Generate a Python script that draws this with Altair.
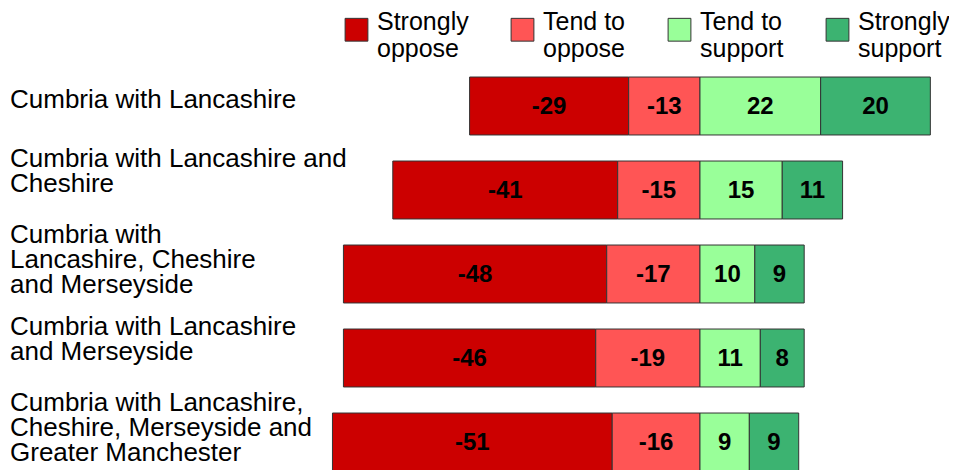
import altair as alt
import pandas as pd

regions = [
    "Cumbria with Lancashire",
    "Cumbria with Lancashire and Cheshire",
    "Cumbria with Lancashire, Cheshire and Merseyside",
    "Cumbria with Lancashire and Merseyside",
    "Cumbria with Lancashire, Cheshire, Merseyside and Greater Manchester",
]
region_labels = [
    "Cumbria with Lancashire",
    "Cumbria with Lancashire and\nCheshire",
    "Cumbria with\nLancashire, Cheshire\nand Merseyside",
    "Cumbria with Lancashire\nand Merseyside",
    "Cumbria with Lancashire,\nCheshire, Merseyside and\nGreater Manchester",
]
categories = ["Strongly oppose", "Tend to oppose", "Tend to support", "Strongly support"]
colors = ["#CC0000", "#FF5555", "#99FF99", "#3CB371"]

strongly_oppose = [-29, -41, -48, -46, -51]
tend_oppose = [-13, -15, -17, -19, -16]
tend_support = [22, 15, 10, 11, 9]
strongly_support = [20, 11, 9, 8, 9]

rows = []
for i, r in enumerate(regions):
    so, to, ts, ss = strongly_oppose[i], tend_oppose[i], tend_support[i], strongly_support[i]
    segs = [
        ("Strongly oppose", so, to + so, to),
        ("Tend to oppose", to, to, 0),
        ("Tend to support", ts, 0, ts),
        ("Strongly support", ss, ts, ts + ss),
    ]
    for cat, v, s, e in segs:
        rows.append({"region": r, "category": cat, "value": v, "start": s, "end": e,
                     "mid": (s + e) / 2, "label": str(v)})
df = pd.DataFrame(rows)
labels_df = pd.DataFrame({"region": regions, "text": region_labels})
labels_df["nlines"] = labels_df["text"].str.count("\n") + 1

yenc = alt.Y("region:N", sort=regions, axis=None,
             scale=alt.Scale(paddingInner=0.31, paddingOuter=0.155))
xscale = alt.Scale(domain=[-70, 45.4], nice=False, zero=False)

bars = alt.Chart(df).mark_bar(stroke="#333333", strokeWidth=1).encode(
    x=alt.X("start:Q", scale=xscale, axis=None),
    x2="end:Q",
    y=yenc,
    color=alt.Color(
        "category:N",
        scale=alt.Scale(domain=categories, range=colors),
        legend=alt.Legend(
            title=None,
            orient="none",
            legendX=28,
            legendY=-47,
            direction="horizontal",
            symbolType="square",
            symbolSize=520,
            symbolStrokeColor="#333333",
            symbolStrokeWidth=1,
            symbolOpacity=1,
            labelFont="Liberation Sans",
            labelFontSize=25,
            labelColor="#000000",
            labelOffset=8,
            labelBaseline="alphabetic",
            columnPadding=40,
            labelLimit=200,
            labelExpr="[slice(datum.label, 0, lastindexof(datum.label, ' ')), slice(datum.label, lastindexof(datum.label, ' ') + 1)]",
        ),
    ),
)

values = alt.Chart(df).mark_text(
    font="Liberation Sans", fontWeight="bold", fontSize=24, color="#000000",
    baseline="middle", align="center", dy=1,
).encode(
    x=alt.X("mid:Q", scale=xscale, axis=None),
    y=yenc,
    text="label:N",
)

line_dy = {1: -6.5, 2: -31, 3: -39}
name_layers = []
for n in (1, 2, 3):
    name_layers.append(
        alt.Chart(labels_df).transform_filter(alt.datum.nlines == n).mark_text(
            font="Liberation Sans", fontSize=26, lineHeight=25, lineBreak="\n",
            align="left", baseline="middle", dy=line_dy[n], color="#000000",
        ).encode(
            x=alt.value(-306),
            y=yenc,
            text="text:N",
        )
    )

chart = alt.layer(bars, values, *name_layers).properties(
    width=633,
    height=420,
    autosize=alt.AutoSizeParams(type="none"),
    padding={"left": 308, "top": 56, "right": 0, "bottom": 0},
).configure_view(stroke=None)

chart.save("out.html", embed_options={"renderer": "svg", "actions": False})
